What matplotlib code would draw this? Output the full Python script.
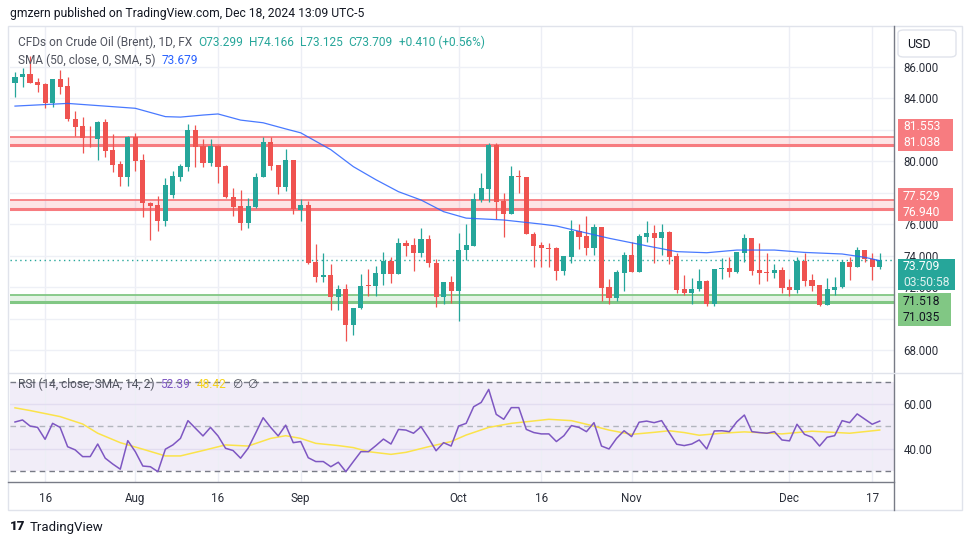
import numpy as np
import pandas as pd
import matplotlib
matplotlib.use("Agg")
import matplotlib.pyplot as plt
from matplotlib.patches import Rectangle, FancyBboxPatch
from matplotlib.lines import Line2D

plt.rcParams["font.family"] = ["Roboto", "DejaVu Sans"]

# daily bars, Brent CFD
dates = pd.bdate_range("2024-07-10", "2024-12-18")
opens = [84.98, 85.32, 85.53, 85.03, 84.90, 83.67, 85.20, 84.77, 82.71, 82.23,
         81.50, 81.43, 82.48, 80.70, 79.81, 79.00, 81.51, 80.07, 77.36, 77.21,
         76.22, 77.85, 79.00, 79.65, 81.98, 80.96, 79.86, 80.96, 79.70, 77.74,
         77.15, 76.05, 77.11, 78.97, 81.21, 79.73, 78.37, 80.07, 76.90, 77.21,
         73.60, 72.66, 72.77, 71.39, 71.86, 69.59, 70.65, 72.10, 72.07, 72.85,
         73.66, 72.85, 74.79, 74.66, 74.17, 75.08, 73.55, 71.35, 72.34, 71.77,
         74.35, 74.62, 77.55, 78.23, 81.02, 77.49, 76.64, 79.02, 78.98, 75.36,
         74.66, 74.45, 74.49, 73.04, 73.93, 75.56, 75.26, 74.50, 75.79, 71.98,
         71.32, 72.92, 74.04, 72.98, 75.20, 75.45, 75.13, 75.52, 73.97, 71.88,
         71.64, 71.86, 72.41, 70.93, 73.13, 73.22, 72.98, 74.19, 75.10, 73.08,
         72.98, 72.87, 73.08, 71.98, 71.81, 73.68, 72.45, 72.13, 70.86, 71.81,
         71.98, 73.61, 73.30, 74.35, 73.80, 73.299]
highs = [85.68, 85.90, 86.70, 85.30, 84.95, 85.20, 85.79, 85.36, 83.18, 82.78,
         82.23, 82.57, 82.65, 81.72, 80.02, 81.60, 81.80, 80.45, 77.40, 77.78,
         78.90, 79.40, 79.82, 82.36, 82.30, 81.43, 81.38, 81.00, 79.77, 78.27,
         78.15, 77.64, 79.23, 81.55, 81.55, 79.73, 80.75, 80.07, 77.57, 77.49,
         74.73, 74.18, 73.47, 72.13, 72.20, 70.65, 72.83, 73.15, 73.36, 74.22,
         73.93, 75.10, 74.96, 75.10, 75.78, 75.29, 73.76, 72.34, 72.70, 75.41,
         76.03, 78.00, 79.27, 81.13, 81.13, 78.00, 79.69, 79.44, 78.98, 75.47,
         74.88, 74.80, 74.55, 73.97, 76.26, 76.00, 76.52, 76.00, 75.79, 72.49,
         73.08, 74.25, 74.88, 75.37, 76.20, 75.94, 76.00, 75.58, 74.14, 72.77,
         72.56, 73.13, 72.45, 73.13, 73.83, 73.89, 74.25, 75.37, 75.10, 74.82,
         74.19, 73.46, 73.30, 72.49, 73.89, 74.19, 72.83, 72.13, 72.56, 72.66,
         73.72, 73.89, 74.52, 74.35, 74.14, 74.166]
lows = [84.05, 84.69, 84.95, 84.41, 83.35, 83.46, 84.24, 82.57, 81.60, 80.53,
        80.87, 80.07, 80.24, 79.31, 78.41, 78.41, 79.39, 76.43, 74.99, 75.58,
        75.90, 77.64, 78.76, 79.39, 79.60, 79.60, 79.69, 78.63, 77.64, 76.50,
        75.62, 75.73, 77.00, 78.97, 79.43, 77.91, 78.10, 76.64, 76.22, 73.46,
        72.34, 72.34, 70.54, 70.54, 68.60, 68.95, 70.60, 71.46, 71.46, 72.14,
        72.28, 72.85, 73.98, 73.04, 73.91, 73.30, 70.71, 70.93, 71.01, 69.87,
        73.70, 74.62, 77.38, 77.38, 76.33, 75.16, 76.64, 78.00, 75.36, 73.30,
        73.30, 73.30, 72.45, 72.77, 73.55, 74.40, 74.03, 74.03, 71.13, 70.90,
        71.13, 71.77, 72.98, 72.98, 74.88, 73.50, 74.03, 73.46, 71.64, 71.49,
        70.90, 71.77, 70.80, 70.80, 72.49, 72.66, 72.87, 73.57, 72.77, 72.20,
        72.41, 72.56, 71.64, 71.43, 71.64, 72.07, 71.77, 70.80, 70.86, 71.49,
        71.92, 72.45, 73.30, 73.61, 72.45, 73.125]
closes = [85.36, 85.53, 84.98, 84.86, 83.71, 85.20, 84.73, 82.65, 82.19, 81.47,
          81.46, 82.50, 80.66, 79.77, 79.00, 81.55, 80.03, 77.36, 77.17, 76.22,
          78.48, 79.06, 79.70, 81.98, 80.92, 79.86, 80.96, 79.65, 77.70, 77.11,
          76.05, 77.15, 78.97, 81.21, 79.69, 78.37, 80.07, 76.94, 77.19, 73.55,
          72.66, 72.77, 71.39, 71.86, 69.59, 70.65, 72.07, 72.07, 72.90, 73.66,
          72.85, 74.79, 74.62, 74.17, 75.08, 73.55, 71.35, 72.34, 71.77, 74.35,
          74.66, 77.60, 78.27, 81.02, 77.42, 76.64, 79.06, 79.00, 75.36, 74.62,
          74.45, 74.40, 73.04, 73.97, 75.56, 75.20, 74.50, 75.79, 71.96, 71.32,
          72.98, 74.04, 72.98, 75.24, 75.45, 75.13, 75.52, 73.93, 71.81, 71.64,
          71.88, 72.41, 70.93, 73.13, 73.22, 72.98, 74.25, 75.10, 73.04, 72.92,
          72.87, 73.08, 71.92, 71.81, 73.68, 72.41, 72.07, 70.86, 71.86, 71.98,
          73.61, 73.30, 74.35, 73.76, 73.299, 73.709]

# SMA 50 read at selected bars
sma_idx = [0, 7, 16, 20, 22, 25, 27, 30, 33, 36, 38, 42, 45, 48, 51, 54, 57, 60,
           65, 70, 72, 79, 84, 88, 92, 96, 101, 105, 110, 113, 115]
sma_val = [83.50, 83.67, 83.36, 82.83, 82.80, 82.93, 83.00, 82.61, 82.44, 82.05,
           81.80, 80.73, 79.65, 78.82, 78.06, 77.53, 76.79, 76.38, 76.26, 76.00,
           75.88, 75.10, 74.62, 74.25, 74.18, 74.35, 74.35, 74.20, 74.10, 73.89, 73.68]

rsi = [52.0, 52.9, 50.2, 49.6, 44.3, 51.4, 49.6, 41.0, 39.6, 36.6,
       36.6, 42.2, 35.9, 33.3, 31.0, 43.7, 38.8, 32.4, 32.1, 29.9,
       39.9, 41.8, 44.7, 52.6, 49.2, 45.8, 49.6, 45.8, 40.3, 39.3,
       35.9, 40.3, 47.0, 53.9, 49.6, 45.8, 50.6, 42.8, 43.3, 36.1,
       34.4, 34.4, 32.1, 34.1, 29.9, 34.4, 38.8, 38.8, 41.5, 44.4,
       42.2, 48.7, 48.4, 47.0, 49.9, 44.8, 39.2, 42.8, 41.3, 50.2,
       51.4, 58.8, 60.7, 66.5, 55.4, 53.2, 58.4, 58.4, 48.7, 47.3,
       46.7, 46.7, 43.3, 45.9, 50.4, 49.6, 47.7, 51.7, 41.3, 40.0,
       44.7, 48.1, 45.5, 51.9, 52.4, 51.7, 52.6, 47.3, 42.1, 41.5,
       42.2, 44.0, 40.0, 48.0, 48.1, 47.7, 52.1, 55.1, 47.7, 47.3,
       47.0, 47.7, 44.0, 43.6, 51.0, 46.5, 45.2, 41.3, 45.2, 45.9,
       52.6, 51.7, 55.6, 53.3, 51.0, 52.39]
rsi_ma_idx = [0, 2, 6, 9, 11, 14, 17, 20, 22, 25, 28, 31, 34, 36, 38, 40, 43, 45,
              47, 50, 52, 55, 58, 60, 63, 66, 68, 71, 74, 76, 79, 82, 85, 87, 89,
              91, 94, 97, 102, 106, 111, 115]
rsi_ma_val = [58.3, 57.1, 54.4, 51.1, 47.0, 42.8, 39.9, 36.9, 36.9, 39.3, 41.8,
              41.3, 44.7, 45.9, 44.7, 42.5, 41.5, 40.6, 38.8, 37.6, 38.5, 41.0,
              43.3, 46.2, 49.6, 51.4, 52.1, 53.2, 52.6, 51.0, 48.4, 46.5, 47.4,
              48.1, 47.3, 46.1, 47.0, 47.6, 46.7, 47.9, 47.0, 48.42]

resist_zones = [(81.038, 81.553), (76.940, 77.529)]
support_zone = (71.035, 71.518)
last_price = 73.709
price_ticks = [68, 70, 72, 74, 76, 78, 80, 82, 84, 86]
hidden_ticks = [78, 82]  # fully covered by the zone labels
tick_dates = ["2024-07-16", "2024-08-01", "2024-08-16", "2024-09-02", "2024-10-01",
              "2024-10-16", "2024-11-01", "2024-12-02", "2024-12-17"]
tick_text = ["16", "Aug", "16", "Sep", "Oct", "16", "Nov", "Dec", "17"]

UP, DOWN = "#26a69a", "#ef5350"
W, H = 970, 545


def fx(p):
    return p / W


def fy(p):
    return 1 - p / H


fig = plt.figure(figsize=(W / 100, H / 100), dpi=100)
fig.patch.set_facecolor("white")

ax = fig.add_axes([fx(10), fy(372), fx(894) - fx(10), fy(26) - fy(372)])
axr = fig.add_axes([fx(10), fy(482), fx(894) - fx(10), fy(373) - fy(482)], sharex=ax)

x = np.arange(len(dates))
o, h, l, c = map(np.array, (opens, highs, lows, closes))
col = np.where(c >= o, UP, DOWN)

ax.vlines(x, l, h, colors=col, lw=0.9, zorder=3)
body_lo = np.minimum(o, c)
body_h = np.maximum(np.abs(c - o), 0.04)
ax.bar(x, body_h, bottom=body_lo, width=0.68, color=col, zorder=4, linewidth=0)

ax.plot(sma_idx, sma_val, color="#2962ff", lw=0.9, alpha=0.85, zorder=5)

for lo, hi in resist_zones:
    ax.axhspan(lo, hi, color="#f23645", alpha=0.13, lw=0, zorder=1)
    ax.axhline(hi, color="#f77c80", lw=1.3, zorder=2)
    ax.axhline(lo, color="#f77c80", lw=2.2, zorder=2)
ax.axhspan(*support_zone, color="#4caf50", alpha=0.14, lw=0, zorder=1)
ax.axhline(support_zone[1], color="#81c784", lw=1.3, zorder=2)
ax.axhline(support_zone[0], color="#81c784", lw=2.2, zorder=2)
ax.axhline(last_price, color=UP, lw=1.0, ls=(0, (1, 2.5)), zorder=2)

tick_pos = [dates.get_loc(pd.Timestamp(d)) for d in tick_dates]
ax.set_xlim(-0.665, 116.9)
ax.set_ylim(66.6, 88.59)
for a in (ax, axr):
    for s in a.spines.values():
        s.set_visible(False)
    a.set_xticks(tick_pos)
    a.grid(axis="x", color="#eceef5", lw=1)
    a.set_axisbelow(True)

ax.set_yticks(price_ticks)
ax.set_yticklabels(["" if v in hidden_ticks else f"{v:.3f}" for v in price_ticks])
ax.yaxis.tick_right()
ax.tick_params(axis="y", length=0, pad=7, labelsize=8.3, labelcolor="#2a2e39")
ax.tick_params(axis="x", length=0, labelbottom=False)
ax.grid(axis="y", color="#eef0f6", lw=1)

# RSI pane
axr.axhspan(30, 70, color="#7e57c2", alpha=0.1, lw=0, zorder=0)
axr.axhline(70, color="#787b86", lw=1, ls=(0, (4, 3)))
axr.axhline(30, color="#787b86", lw=1, ls=(0, (4, 3)))
axr.axhline(50, color="#b2b5be", lw=1, ls=(0, (4, 3)))
axr.plot(x, rsi, color="#7e57c2", lw=1.1, zorder=4)
axr.plot(rsi_ma_idx, rsi_ma_val, color="#fbe34a", lw=1.1, zorder=3)
axr.set_ylim(25.3, 73.8)
axr.set_yticks([40, 60])
axr.set_yticklabels(["40.00", "60.00"])
axr.yaxis.tick_right()
axr.grid(axis="y", color="#e2ddf0", lw=1)
axr.tick_params(axis="y", length=0, pad=7, labelsize=8.3, labelcolor="#2a2e39")
axr.set_xticklabels(tick_text)
axr.tick_params(axis="x", length=0, pad=7, labelsize=8.4, labelcolor="#2a2e39")

# frame lines
fig.add_artist(Rectangle((fx(8), fy(510)), fx(962) - fx(8), fy(26) - fy(510),
                         transform=fig.transFigure, fill=False, ec="#e0e3eb", lw=1))
fig.add_artist(Line2D([fx(894), fx(894)], [fy(26), fy(510)], transform=fig.transFigure,
                      color="#787b86", lw=1))
fig.add_artist(Line2D([fx(8), fx(894)], [fy(482), fy(482)], transform=fig.transFigure,
                      color="#787b86", lw=1))
fig.add_artist(Line2D([fx(8), fx(962)], [fy(372.5), fy(372.5)], transform=fig.transFigure,
                      color="#e0e3eb", lw=1))

fig.canvas.draw()
rend = fig.canvas.get_renderer()


def px_y(val):
    return H - ax.transData.transform((0, val))[1]


def price_box(yc, hgt, width, face, lines, tcol):
    fig.add_artist(Rectangle((fx(898), fy(yc + hgt / 2)), fx(898 + width) - fx(898),
                             hgt / H, transform=fig.transFigure, fc=face, ec="none",
                             zorder=10))
    n = len(lines)
    for i, (txt, a) in enumerate(lines):
        yy = yc + (i - (n - 1) / 2) * 16
        fig.text(fx(903), fy(yy), txt, color=tcol, alpha=a, fontsize=8.7,
                 va="center", ha="left", zorder=11)


r1 = (px_y(resist_zones[0][1]) + px_y(resist_zones[0][0])) / 2 - 6
price_box(r1, 32, 55, "#f77c80", [("81.553", 1), ("81.038", 1)], "white")
r2 = (px_y(resist_zones[1][1]) + px_y(resist_zones[1][0])) / 2
price_box(r2, 33, 55, "#f77c80", [("77.529", 1), ("76.940", 1)], "white")
t1 = px_y(last_price) + 14
price_box(t1, 31, 57, UP, [("73.709", 1), ("03:50:58", 0.85)], "white")
g1 = (px_y(support_zone[1]) + px_y(support_zone[0])) / 2 + 11
price_box(g1, 33, 53, "#81c784", [("71.518", 1), ("71.035", 1)], "#131722")

# USD box
fig.add_artist(FancyBboxPatch((fx(898), fy(57)), fx(956) - fx(898), fy(30) - fy(57),
                              boxstyle="round,pad=0,rounding_size=0.006",
                              transform=fig.transFigure, fc="white", ec="#e0e3eb", lw=1))
fig.text(fx(919), fy(44), "USD", fontsize=9, color="#131722", ha="center", va="center")


def seq_text(x0, y0, parts, size=8.6):
    xx = x0
    for s, colr, gap in parts:
        t = fig.text(fx(xx), fy(y0), s, color=colr, fontsize=size, va="center",
                     ha="left", zorder=12)
        xx += t.get_window_extent(renderer=rend).width + gap


grey = "#50535e"
fig.text(fx(10), fy(14), "gmzern published on TradingView.com, Dec 18, 2024 13:09 UTC-5",
         fontsize=8.75, color="#131722", va="center", ha="left")
seq_text(18, 42, [("CFDs on Crude Oil (Brent), 1D, FX", grey, 6),
                  ("O73.299", UP, 6), ("H74.166", UP, 6), ("L73.125", UP, 6),
                  ("C73.709", UP, 6), ("+0.410 (+0.56%)", UP, 0)])
seq_text(18, 60, [("SMA (50, close, 0, SMA, 5)", grey, 6), ("73.679", "#2962ff", 0)])
seq_text(18, 384, [("RSI (14, close, SMA, 14, 2)", grey, 6), ("52.39", "#7e57c2", 6),
                   ("48.42", "#f5d31e", 6), ("\u2205", grey, 5), ("\u2205", grey, 0)])

# footer logo
fig.text(fx(10), fy(527), "17", fontsize=9.5, fontweight="heavy", color="#131722",
         va="center", ha="left")
fig.text(fx(30), fy(527), "TradingView", fontsize=9.5, color="#131722",
         va="center", ha="left")

fig.savefig("out.png", dpi=100)
